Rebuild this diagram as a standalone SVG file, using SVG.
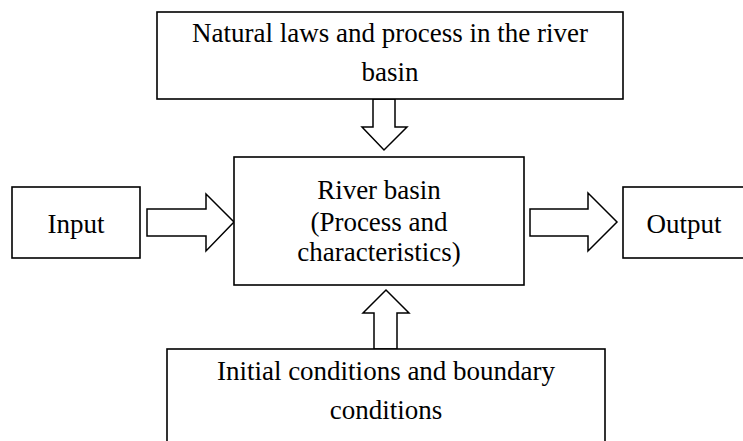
<svg xmlns="http://www.w3.org/2000/svg" width="743" height="441" viewBox="0 0 743 441">
<style>
.box{fill:#fff;stroke:#000;stroke-width:1.6}
.arr{fill:#fff;stroke:#000;stroke-width:1.5;stroke-linejoin:miter}
text{font-family:"Liberation Serif","Times New Roman",serif;font-size:27px;fill:#000;text-anchor:middle}
</style>
<rect width="743" height="441" fill="#fff"/>
<g id="connectors">
<polygon class="arr" points="373,99 373,127 362,127 384,150 407,127 395,127 395,99"/>
<polygon class="arr" points="374,349 374,313 363,313 386,290 409,313 397,313 397,349"/>
<polygon class="arr" points="147,209 206,209 206,194 234,222 206,251 206,236 147,236"/>
<polygon class="arr" points="530,209 588,209 588,193 617,222 588,251 588,236 530,236"/>
</g>
<g id="natural-laws">
<rect class="box" x="157" y="12" width="466" height="87"/>
<text x="390" y="42">Natural laws and process in the river</text>
<text x="390" y="81">basin</text>
</g>
<g id="river-basin">
<rect class="box" x="234" y="157" width="290" height="128"/>
<text x="379" y="199">River basin</text>
<text x="379" y="231">(Process and</text>
<text x="379" y="261">characteristics)</text>
</g>
<g id="input">
<rect class="box" x="12" y="187" width="128" height="71"/>
<text x="76" y="233">Input</text>
</g>
<g id="output">
<rect class="box" x="623" y="187" width="122" height="71"/>
<text x="684" y="233">Output</text>
</g>
<g id="initial-conditions">
<rect class="box" x="167" y="349" width="438" height="100"/>
<text x="386" y="380">Initial conditions and boundary</text>
<text x="386" y="419">conditions</text>
</g>
</svg>
